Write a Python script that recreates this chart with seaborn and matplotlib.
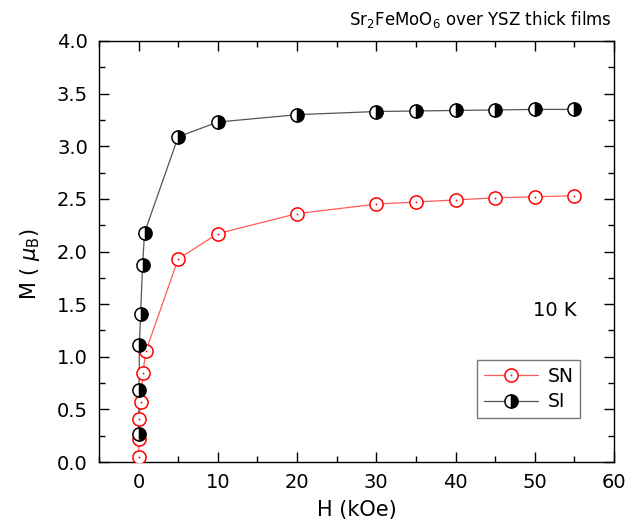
import matplotlib
matplotlib.use("Agg")
import matplotlib.pyplot as plt
import seaborn as sns
import pandas as pd
from matplotlib.lines import Line2D
from matplotlib.ticker import MultipleLocator

# Data
h_sn = [0.0, 0.03, 0.1, 0.25, 0.55, 0.9, 5, 10, 20, 30, 35, 40, 45, 50, 55]
m_sn = [0.05, 0.22, 0.41, 0.57, 0.85, 1.05, 1.93, 2.17, 2.36, 2.45, 2.47, 2.49, 2.51, 2.52, 2.53]
h_si = [0.0, 0.05, 0.1, 0.25, 0.5, 0.75, 5, 10, 20, 30, 35, 40, 45, 50, 55]
m_si = [0.27, 0.68, 1.11, 1.41, 1.87, 2.18, 3.09, 3.23, 3.30, 3.33, 3.335, 3.34, 3.345, 3.35, 3.35]
series_names = ["SN", "SI"]
x_ticks = [0, 10, 20, 30, 40, 50, 60]
y_ticks = [0.0, 0.5, 1.0, 1.5, 2.0, 2.5, 3.0, 3.5, 4.0]

df_sn = pd.DataFrame({"H": h_sn, "M": m_sn})
df_si = pd.DataFrame({"H": h_si, "M": m_si})

sns.set_style("ticks")
plt.rcParams["font.family"] = ["DejaVu Sans"]
plt.rcParams["text.color"] = "black"
plt.rcParams["axes.labelcolor"] = "black"
plt.rcParams["xtick.color"] = "black"
plt.rcParams["ytick.color"] = "black"

fig = plt.figure(figsize=(6.29, 5.29), dpi=100)
ax = fig.add_axes([99 / 629, 1 - 462 / 529, 515 / 629, 421 / 529])

# lines
sns.lineplot(data=df_sn, x="H", y="M", estimator=None, sort=False, ax=ax,
             color="#ff5a5a", lw=0.9, zorder=2)
sns.lineplot(data=df_si, x="H", y="M", estimator=None, sort=False, ax=ax,
             color="#555555", lw=0.9, zorder=2)
# markers
ms = 9.5
ax.plot(df_sn["H"], df_sn["M"], ls="none", marker="o", ms=ms, mfc="white",
        mec="red", mew=1.1, zorder=3)
ax.plot(df_sn["H"], df_sn["M"], ls="none", marker="o", ms=1.3, mfc="red",
        mec="red", mew=0, zorder=4)
ax.plot(df_si["H"], df_si["M"], ls="none", marker="o", ms=ms, fillstyle="right",
        mfc="black", markerfacecoloralt="white", mec="black", mew=1.1, zorder=3)

ax.set_xlim(-5, 60)
ax.set_ylim(0, 4.0)
ax.set_xticks(x_ticks)
ax.set_yticks(y_ticks)
ax.set_yticklabels([f"{v:.1f}" for v in y_ticks])
ax.xaxis.set_minor_locator(MultipleLocator(5))
ax.yaxis.set_minor_locator(MultipleLocator(0.25))
ax.tick_params(which="both", direction="in", top=True, right=True,
               labelsize=14, color="black", labelcolor="black", width=1)
ax.tick_params(which="major", length=7, pad=8)
ax.tick_params(which="minor", length=4)
for s in ax.spines.values():
    s.set_visible(True)
    s.set_color("black")
    s.set_linewidth(1)

ax.set_xlabel("H (kOe)", fontsize=15, labelpad=6)
ax.set_ylabel(r"M ( $\mu_{\rm B}$)", fontsize=15, labelpad=8)
ax.yaxis.set_label_coords(-0.11, 0.47)

fig.text(0.973, 1 - 25 / 529, r"Sr$_2$FeMoO$_6$ over YSZ thick films", ha="right",
         va="baseline", fontsize=12)
ax.text(52.5, 1.44, "10 K", ha="center", va="center", fontsize=14)

h_sn_leg = (Line2D([], [], color="#ff5a5a", lw=0.9, marker="o", ms=ms, mfc="white",
                   mec="red", mew=1.1),
            Line2D([], [], ls="none", marker="o", ms=1.3, mfc="red", mec="red", mew=0))
h_si_leg = Line2D([], [], color="#555555", lw=0.9, marker="o", ms=ms, fillstyle="right",
                  mfc="black", markerfacecoloralt="white", mec="black", mew=1.1)
leg = ax.legend([h_sn_leg, h_si_leg], series_names, loc="lower right",
                bbox_to_anchor=(0.934, 0.105), fontsize=13.5, frameon=True,
                fancybox=False, edgecolor="#555555", handlelength=2.9,
                borderpad=0.35, labelspacing=0.35, handletextpad=0.5,
                borderaxespad=0)
leg.get_frame().set_linewidth(1)

fig.savefig("out.png", dpi=100)
